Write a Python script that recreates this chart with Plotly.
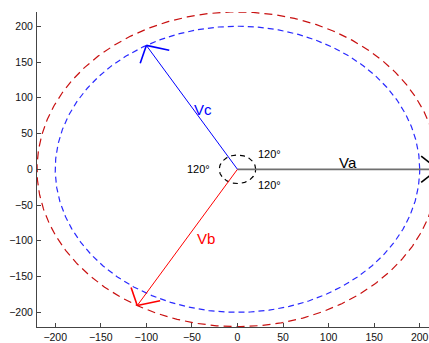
import numpy as np
import plotly.graph_objects as go

# Phasor data
phasor_names = ["Va", "Vb", "Vc"]
phasor_mags = [220, 220, 200]
phasor_angles_deg = [0, 240, 120]
phasor_line_colors = ["#707070", "#ff0000", "#0000ff"]
phasor_head_colors = ["#000000", "#ff0000", "#0000ff"]
label_pos_x = [121, -34, -38]
label_pos_y = [10, -97, 83]
label_colors = ["#000000", "#ff0000", "#0000ff"]

circle_radii = [220, 200, 20]
circle_colors = ["#c81010", "#2a2aff", "#000000"]
circle_dash = ["8px,5px", "6px,4px", "5px,4px"]

angle_labels = ["120°", "120°", "120°"]
angle_label_x = [35, -43, 35]
angle_label_y = [22, 0, -22]

x_ticks = [-200, -150, -100, -50, 0, 50, 100, 150, 200]
y_ticks = [-200, -150, -100, -50, 0, 50, 100, 150, 200]

head_len = 26
head_half_angle = 45

fig = go.Figure()

theta = np.linspace(0, 2 * np.pi, 721)
for r, c, d in zip(circle_radii, circle_colors, circle_dash):
    fig.add_trace(go.Scatter(x=r * np.cos(theta), y=r * np.sin(theta), mode="lines",
                             line=dict(color=c, width=1.2, dash=d), hoverinfo="skip",
                             showlegend=False))

for name, m, a, lc, hc in zip(phasor_names, phasor_mags, phasor_angles_deg,
                               phasor_line_colors, phasor_head_colors):
    ar = np.deg2rad(a)
    tx, ty = m * np.cos(ar), m * np.sin(ar)
    fig.add_trace(go.Scatter(x=[0, tx], y=[0, ty], mode="lines",
                             line=dict(color=lc, width=1.8 if name == "Va" else 1.0),
                             hoverinfo="skip", showlegend=False))
    back = ar + np.pi
    bx, by = [], []
    for s in (-1, 1):
        ba = back + s * np.deg2rad(head_half_angle)
        bx += [tx + head_len * np.cos(ba), tx, None]
        by += [ty + head_len * np.sin(ba), ty, None]
    fig.add_trace(go.Scatter(x=bx, y=by, mode="lines", line=dict(color=hc, width=1.6),
                             hoverinfo="skip", showlegend=False))

for t, x, y, c in zip(phasor_names, label_pos_x, label_pos_y, label_colors):
    fig.add_annotation(x=x, y=y, text=t, showarrow=False,
                       font=dict(family="Liberation Sans, Arial", size=15, color=c))

for t, x, y in zip(angle_labels, angle_label_x, angle_label_y):
    fig.add_annotation(x=x, y=y, text=t, showarrow=False,
                       font=dict(family="Liberation Sans, Arial", size=11, color="#000000"))

axis_common = dict(showgrid=False, zeroline=False, showline=True, linecolor="#444444",
                   linewidth=1, ticks="inside", ticklen=4, tickcolor="#444444",
                   tickfont=dict(family="Liberation Sans, Arial", size=10.5, color="#111111"),
                   mirror=False, automargin=False)

fig.update_layout(
    width=429, height=343,
    margin=dict(l=37, r=0, t=12, b=16),
    paper_bgcolor="white", plot_bgcolor="white",
    xaxis=dict(range=[-220, 210.2], tickvals=x_ticks, **axis_common),
    yaxis=dict(range=[-220.5, 219.9], tickvals=y_ticks, ticklabelstandoff=1, **axis_common),
    showlegend=False,
)

fig.write_html("out.html")
